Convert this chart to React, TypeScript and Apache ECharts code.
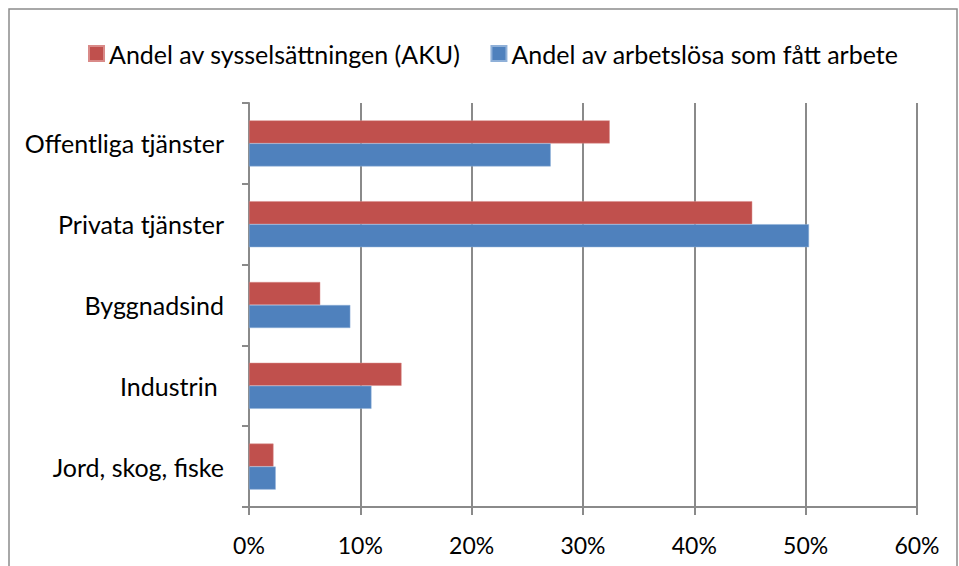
import React, { useEffect, useRef } from "react";
import * as echarts from "echarts";

const categories = ["Offentliga tjänster", "Privata tjänster", "Byggnadsind", "Industrin ", "Jord, skog, fiske"];
const sysselsattning = [32.4, 45.2, 6.4, 13.7, 2.2];
const arbetslosa = [27.1, 50.3, 9.1, 11.0, 2.4];
const seriesNames = ["Andel av sysselsättningen (AKU)", "Andel av arbetslösa som fått arbete"];
const xTicks = [0, 10, 20, 30, 40, 50, 60];

export default function App() {
  const ref = useRef<HTMLDivElement>(null);
  useEffect(() => {
    if (!ref.current) return;
    const chart = echarts.init(ref.current, null, { renderer: "svg" });
    const font = "Lato";
    const gray = "#8a8a8a";
    chart.setOption({
      animation: false,
      backgroundColor: "#ffffff",
      textStyle: { fontFamily: font },
      graphic: [
        {
          type: "rect",
          shape: { x: 9, y: 9, width: 948, height: 600 },
          style: { fill: "none", stroke: "#8c8c8c", lineWidth: 1.5 },
          silent: true,
        },
      ],
      legend: {
        left: 83,
        top: 36,
        itemWidth: 15,
        itemHeight: 15,
        itemGap: 30,
        icon: "rect",
        textStyle: { fontFamily: font, fontSize: 25, color: "#000" },
        data: seriesNames,
      },
      grid: { left: 249, right: 42, top: 103, bottom: 59, containLabel: false },
      xAxis: {
        type: "value",
        min: xTicks[0],
        max: xTicks[xTicks.length - 1],
        interval: 10,
        axisLine: { show: true, lineStyle: { color: gray, width: 2 } },
        axisTick: { show: true, length: 8, lineStyle: { color: gray, width: 2 } },
        splitLine: { show: true, lineStyle: { color: gray, width: 2 } },
        axisLabel: {
          formatter: "{value}%",
          fontFamily: font,
          fontSize: 23,
          color: "#000",
          margin: 26,
        },
      },
      yAxis: {
        type: "category",
        inverse: true,
        data: categories,
        axisLine: { show: true, lineStyle: { color: gray, width: 2 } },
        axisTick: { show: true, length: 7, alignWithLabel: false, lineStyle: { color: gray, width: 2 } },
        axisLabel: { fontFamily: font, fontSize: 25, color: "#000", margin: 25 },
      },
      series: [
        {
          name: seriesNames[0],
          type: "bar",
          data: sysselsattning,
          barWidth: 23,
          barGap: "0%",
          itemStyle: { color: "#C0504D", borderColor: "#d98a88", borderWidth: 0.5 },
        },
        {
          name: seriesNames[1],
          type: "bar",
          data: arbetslosa,
          barWidth: 23,
          barGap: "0%",
          itemStyle: { color: "#4F81BD", borderColor: "#8fb0d8", borderWidth: 0.5 },
        },
      ],
    });
    return () => chart.dispose();
  }, []);
  return <div ref={ref} style={{ position: "fixed", left: 0, top: 0, width: 959, height: 566 }} />;
}
